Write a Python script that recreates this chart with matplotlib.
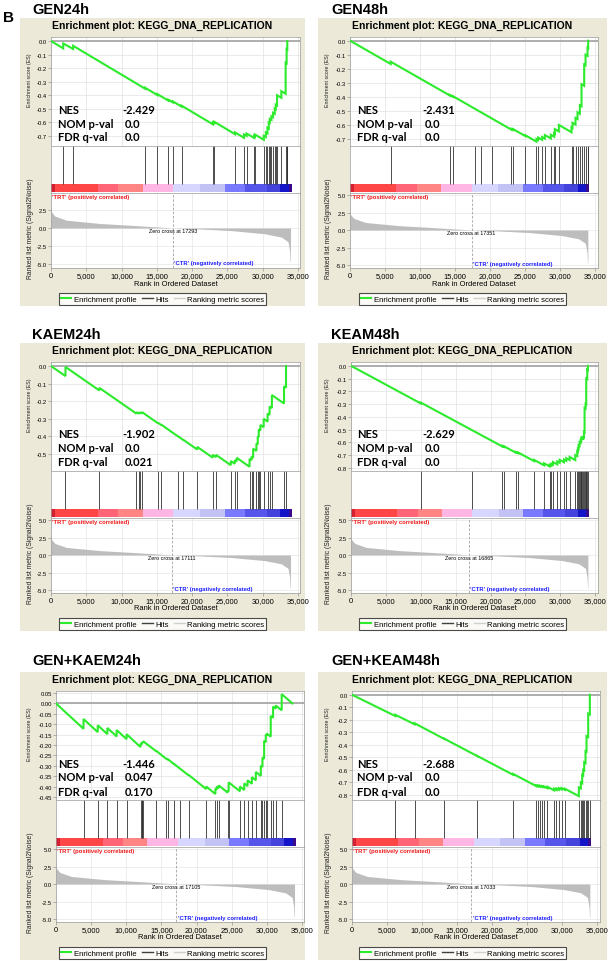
import matplotlib
matplotlib.use("Agg")
import matplotlib.pyplot as plt
from matplotlib.lines import Line2D
from matplotlib.patches import Rectangle

plt.rcParams["font.family"] = ["Liberation Sans", "DejaVu Sans"]

W, H = 610, 962

# ---------------- data ----------------
PANEL_NAMES = ["GEN24h", "GEN48h", "KAEM24h", "KEAM48h", "GEN+KAEM24h", "GEN+KEAM48h"]
TITLE = "Enrichment plot: KEGG_DNA_REPLICATION"
NES = ["-2.429", "-2.431", "-1.902", "-2.629", "-1.446", "-2.688"]
NOM_P = ["0.0", "0.0", "0.0", "0.0", "0.047", "0.0"]
FDR_Q = ["0.0", "0.0", "0.021", "0.0", "0.170", "0.0"]
ZERO_CROSS = [17293, 17351, 17111, 16865, 17105, 17033]

X_TICKS = [0, 5000, 10000, 15000, 20000, 25000, 30000, 35000]
X_TICK_LABELS = ["0", "5,000", "10,000", "15,000", "20,000", "25,000", "30,000", "35,000"]

ES_TICKS_A = [0.0, -0.1, -0.2, -0.3, -0.4, -0.5, -0.6, -0.7]
ES_TICKS_B = [0.0, -0.1, -0.2, -0.3, -0.4, -0.5]
ES_TICKS_C = [0.0, -0.1, -0.2, -0.3, -0.4, -0.5, -0.6, -0.7, -0.8]
ES_TICKS_D = [0.05, 0.0, -0.05, -0.10, -0.15, -0.20, -0.25, -0.30, -0.35, -0.40, -0.45]
METRIC_TICKS_A = [2.5, 0.0, -2.5, -5.0]
METRIC_TICKS_B = [5.0, 2.5, 0.0, -2.5, -5.0]

ES_GEN24H_RANK = [0, 1733, 1733, 3139, 3139, 13352, 13352, 15086, 15086, 16632, 16632, 17288, 17288,
                  18506, 18506, 22957, 22957, 23144, 23144, 26096, 26096, 27361, 27361, 27735, 27735,
                  28813, 28813, 28906, 28906, 30171, 30171, 30453, 30453, 30687, 30687, 30874, 30874,
                  31015, 31015, 31249, 31249, 31483, 31483, 31718, 31718, 31858, 31858, 32045, 32045,
                  32654, 32654, 33264, 33264, 33404, 33404, 33498, 33498]
ES_GEN24H_SCORE = [0.0, -0.054, -0.018, -0.058, -0.035, -0.352, -0.345, -0.399, -0.392, -0.440, -0.433,
                   -0.453, -0.446, -0.484, -0.477, -0.615, -0.600, -0.606, -0.596, -0.688, -0.675,
                   -0.714, -0.690, -0.700, -0.683, -0.716, -0.700, -0.703, -0.690, -0.729, -0.700,
                   -0.709, -0.675, -0.682, -0.640, -0.646, -0.600, -0.604, -0.575, -0.582, -0.555,
                   -0.562, -0.530, -0.537, -0.500, -0.504, -0.470, -0.476, -0.400, -0.419, -0.370,
                   -0.389, -0.160, -0.164, -0.060, -0.063, 0.0]
HITS_GEN24H = [1733, 3139, 13352, 15086, 16632, 17288, 18506, 22957, 23144, 26096, 27361, 27735,
               28813, 28906, 30171, 30453, 30687, 30874, 31015, 31249, 31483, 31718, 31858, 32045,
               32654, 33264, 33404, 33498]

ES_GEN48H_RANK = [0, 5810, 5810, 14238, 14238, 14714, 14714, 23048, 23048, 23286, 23286, 25048, 25048,
                  26619, 26619, 26857, 26857, 27429, 27429, 27810, 27810, 28667, 28667, 29143, 29143,
                  29238, 29238, 29810, 29810, 31619, 31619, 31762, 31762, 32191, 32191, 32476, 32476,
                  32810, 32810, 33048, 33048, 33429, 33429, 33619, 33619, 33905, 33905, 34000, 34000]
ES_GEN48H_SCORE = [0.0, -0.166, -0.150, -0.390, -0.386, -0.400, -0.396, -0.634, -0.628, -0.635, -0.630,
                   -0.680, -0.674, -0.719, -0.700, -0.707, -0.690, -0.706, -0.686, -0.697, -0.672,
                   -0.696, -0.670, -0.684, -0.660, -0.663, -0.630, -0.646, -0.600, -0.652, -0.618,
                   -0.622, -0.585, -0.597, -0.550, -0.558, -0.510, -0.520, -0.460, -0.467, -0.310,
                   -0.321, -0.170, -0.175, -0.100, -0.108, -0.050, -0.053, 0.0]
HITS_GEN48H = [5810, 14238, 14714, 17905, 18762, 20286, 23048, 23286, 25048, 26619, 26857, 27429,
               27810, 28667, 29143, 29238, 29810, 31619, 31762, 32191, 32476, 32810, 33048, 33429,
               33619, 33905, 34000]

ES_KAEM24H_RANK = [0, 2050, 2050, 6850, 6850, 12116, 12116, 12442, 12442, 12675, 12675, 12908, 12908,
                   15145, 15145, 15611, 15611, 18034, 18034, 18733, 18733, 20737, 20737, 22927, 22927,
                   23393, 23393, 25490, 25490, 26050, 26050, 26329, 26329, 28146, 28146, 28426, 28426,
                   28659, 28659, 29125, 29125, 29311, 29311, 29451, 29451, 29684, 29684, 30150, 30150,
                   30709, 30709, 30989, 30989, 31315, 31315, 33039, 33039, 33319, 33319]
ES_KAEM24H_SCORE = [0.0, -0.057, -0.005, -0.139, -0.124, -0.271, -0.262, -0.271, -0.263, -0.270, -0.263,
                    -0.270, -0.262, -0.325, -0.322, -0.335, -0.333, -0.401, -0.400, -0.420, -0.419,
                    -0.475, -0.460, -0.521, -0.505, -0.518, -0.505, -0.564, -0.540, -0.556, -0.535,
                    -0.543, -0.522, -0.573, -0.528, -0.536, -0.515, -0.522, -0.470, -0.483, -0.440,
                    -0.445, -0.400, -0.404, -0.360, -0.367, -0.335, -0.348, -0.300, -0.316, -0.270,
                    -0.278, -0.230, -0.239, -0.165, -0.213, -0.115, -0.123, 0.0]
HITS_KAEM24H = [2050, 6850, 12116, 12442, 12675, 12908, 15145, 15611, 18034, 18733, 20737, 22927,
                23393, 25490, 26050, 26329, 28146, 28426, 28659, 29125, 29311, 29451, 29684, 30150,
                30709, 30989, 31315, 33039, 33319]

ES_KEAM48H_RANK = [0, 10000, 10000, 21667, 21667, 21953, 21953, 23619, 23619, 23952, 23952, 26238, 26238,
                   27667, 27667, 28476, 28476, 28714, 28714, 28952, 28952, 29571, 29571, 29905, 29905,
                   30524, 30524, 30857, 30857, 31333, 31333, 32143, 32143, 32429, 32429, 32524, 32524,
                   32619, 32619, 32762, 32762, 32905, 32905, 33000, 33000, 33143, 33143, 33238, 33238,
                   33381, 33381, 33476, 33476, 33619, 33619, 33714, 33714, 33857, 33857, 33952, 33952]
ES_KEAM48H_SCORE = [0.0, -0.295, -0.288, -0.632, -0.628, -0.636, -0.632, -0.681, -0.676, -0.686, -0.680,
                    -0.747, -0.738, -0.780, -0.765, -0.789, -0.776, -0.783, -0.768, -0.775, -0.755,
                    -0.773, -0.750, -0.760, -0.738, -0.756, -0.735, -0.745, -0.725, -0.739, -0.715,
                    -0.739, -0.700, -0.708, -0.670, -0.673, -0.650, -0.653, -0.625, -0.629, -0.600,
                    -0.604, -0.585, -0.588, -0.565, -0.569, -0.566, -0.569, -0.560, -0.564, -0.520,
                    -0.523, -0.330, -0.334, -0.300, -0.303, -0.100, -0.104, -0.030, -0.033, 0.0]
HITS_KEAM48H = [10000, 17286, 21667, 21953, 23619, 23952, 26238, 27667, 28476, 28714, 28952, 29571,
                29905, 30524, 30857, 31333, 32143, 32429, 32524, 32619, 32762, 32905, 33000, 33143,
                33238, 33381, 33476, 33619, 33714, 33857, 33952]

ES_GKAEM24H_RANK = [0, 3915, 3915, 5943, 5943, 7311, 7311, 8632, 8632, 10047, 10047, 12028, 12028,
                    12170, 12170, 12311, 12311, 12406, 12406, 14293, 14293, 15708, 15708, 15943, 15943,
                    16745, 16745, 18868, 18868, 21368, 21368, 22689, 22689, 22877, 22877, 23160, 23160,
                    24434, 24434, 24575, 24575, 26179, 26179, 26792, 26792, 27264, 27264, 27877, 27877,
                    28443, 28443, 29151, 29151, 29387, 29387, 29623, 29623, 29858, 29858, 30000, 30000,
                    30566, 30566, 30896, 30896, 31274, 31274, 32123, 32123, 33650]
ES_GKAEM24H_SCORE = [0.0, -0.122, -0.075, -0.138, -0.105, -0.148, -0.118, -0.159, -0.128, -0.172, -0.148,
                     -0.210, -0.195, -0.199, -0.188, -0.192, -0.185, -0.188, -0.182, -0.231, -0.229,
                     -0.267, -0.265, -0.271, -0.269, -0.291, -0.290, -0.346, -0.344, -0.412, -0.400,
                     -0.436, -0.410, -0.415, -0.400, -0.408, -0.395, -0.429, -0.420, -0.424, -0.380,
                     -0.423, -0.400, -0.417, -0.385, -0.398, -0.370, -0.387, -0.355, -0.370, -0.330,
                     -0.349, -0.300, -0.306, -0.260, -0.266, -0.180, -0.186, -0.150, -0.154, -0.145,
                     -0.160, -0.060, -0.069, -0.015, -0.025, -0.010, -0.033, 0.045, 0.0]
HITS_GKAEM24H = [3915, 5943, 7311, 8632, 10047, 12028, 12170, 12311, 12406, 14293, 15708, 15943,
                 16745, 17594, 18868, 21368, 22689, 22877, 23160, 24434, 24575, 26179, 26792, 27264,
                 27877, 28443, 29151, 29387, 29623, 29858, 30000, 30566, 30896, 31274, 32123]

ES_GKEAM48H_RANK = [0, 6190, 6190, 8952, 8952, 13143, 13143, 17905, 17905, 23000, 23000, 26333, 26333,
                    26571, 26571, 26810, 26810, 27143, 27143, 27429, 27429, 27905, 27905, 28857, 28857,
                    29190, 29190, 29524, 29524, 29905, 29905, 30381, 30381, 32381, 32381, 32667, 32667,
                    32857, 32857, 33000, 33000, 33143, 33143, 33333, 33333, 33476, 33476, 33714, 33714,
                    33952, 33952]
ES_GKEAM48H_SCORE = [0.0, -0.170, -0.160, -0.236, -0.228, -0.352, -0.350, -0.490, -0.489, -0.639, -0.632,
                     -0.730, -0.724, -0.731, -0.725, -0.732, -0.726, -0.736, -0.730, -0.738, -0.732,
                     -0.746, -0.735, -0.763, -0.750, -0.760, -0.748, -0.758, -0.745, -0.756, -0.745,
                     -0.759, -0.750, -0.809, -0.740, -0.748, -0.700, -0.706, -0.640, -0.644, -0.600,
                     -0.604, -0.540, -0.546, -0.450, -0.454, -0.330, -0.337, -0.150, -0.157, 0.0]
HITS_GKEAM48H = [6190, 8952, 13143, 17905, 23000, 26333, 26571, 26810, 27143, 27429, 27905, 28857,
                 29190, 29524, 29905, 30381, 32381, 32667, 32857, 33000, 33143, 33333, 33476, 33714,
                 33952]

# ranked list metric (Signal2Noise), read from the grey area
METRIC_POS_RANK = [0, 80, 560, 2200, 6900, 11600, 15500]
METRIC_POS_VALUE = [3.0, 2.2, 1.65, 1.08, 0.63, 0.36, 0.12]
METRIC_NEG_RANK = [21000, 25600, 30300, 32650, 33600, 33830, 33900, 33950]
METRIC_NEG_VALUE = [-0.13, -0.36, -0.80, -1.26, -1.90, -3.20, -4.70, -4.70]

# colour bar of the ranked list
BAND_EDGES = [0, 570, 6620, 9550, 13000, 17360, 21140, 24690, 27530, 30600, 32500, 33680, 34100]
BAND_COLORS = ["#D42030", "#FF4646", "#FF6477", "#FF8585", "#FFB6E4", "#D6D6FF", "#C2C2F4",
               "#7A7AFF", "#5656EA", "#4444DC", "#1414C8", "#3A0A8C"]

ES_RANKS = [ES_GEN24H_RANK, ES_GEN48H_RANK, ES_KAEM24H_RANK, ES_KEAM48H_RANK, ES_GKAEM24H_RANK, ES_GKEAM48H_RANK]
ES_SCORES = [ES_GEN24H_SCORE, ES_GEN48H_SCORE, ES_KAEM24H_SCORE, ES_KEAM48H_SCORE, ES_GKAEM24H_SCORE, ES_GKEAM48H_SCORE]
HITS = [HITS_GEN24H, HITS_GEN48H, HITS_KAEM24H, HITS_KEAM48H, HITS_GKAEM24H, HITS_GKEAM48H]
ES_TICKS = [ES_TICKS_A, ES_TICKS_A, ES_TICKS_B, ES_TICKS_C, ES_TICKS_D, ES_TICKS_C]
ES_FMT = ["{:.1f}", "{:.1f}", "{:.1f}", "{:.1f}", "{:.2f}", "{:.1f}"]
METRIC_TICKS = [METRIC_TICKS_A] + [METRIC_TICKS_B] * 5

# ---------------- layout (pixels) ----------------
BEIGE = "#ECE9D8"
GREEN = "#2CEB2C"
ES_YLIM = [(-0.775, 0.03), (-0.75, 0.026), (-0.597, 0.023), (-0.825, 0.03), (-0.465, 0.06), (-0.84, 0.03)]
M_YLIM = [(-5.55, 4.86)] + [(-5.43, 5.29)] * 5
BOX_X = [(20, 305), (318, 607)]
ROW_OFF = [0, 325, 654]
NAME_Y = [10, 335, 661]
NAME_X = [32, 331]
AX_LEFT = [51, 350, 51, 351, 56, 352]
AX_RIGHT = [300, 598, 300, 598, 304, 600]
XMAX = [35300, 35400, 35300, 35400, 35300, 35400]
STAT_X = [(58, 122, 125), (357, 422, 425)]

fig = plt.figure(figsize=(W / 100, H / 100), dpi=100)
fig.patch.set_facecolor("white")


def rect(x0, y0, x1, y1):
    return [x0 / W, 1 - y1 / H, (x1 - x0) / W, (y1 - y0) / H]


def ftext(x, y, s, **kw):
    fig.text(x / W, 1 - y / H, s, **kw)


def style_axes(ax):
    for sp in ax.spines.values():
        sp.set_color("#9A9A9A")
        sp.set_linewidth(0.5)
    ax.tick_params(length=2, width=0.4, color="#808080", pad=1)


ftext(3, 18, "B", fontsize=11, weight="bold", va="center")

for i in range(6):
    col, row = i % 2, i // 2
    off = ROW_OFF[row]
    bx0, bx1 = BOX_X[col]
    L, R = AX_LEFT[i], AX_RIGHT[i]
    fig.add_artist(Rectangle((bx0 / W, 1 - (off + 307) / H), (bx1 - bx0) / W, (307 - 19) / H,
                             transform=fig.transFigure, facecolor=BEIGE, edgecolor="none", zorder=-5))
    ftext(NAME_X[col], NAME_Y[row], PANEL_NAMES[i], fontsize=10.5, weight="bold", va="center")
    ftext((bx0 + bx1) / 2, off + 26, TITLE, fontsize=7.5, weight="bold", ha="center", va="center")

    # ES plot
    ax = fig.add_axes(rect(L, off + 38, R, off + 147))
    ax.set_facecolor("white")
    ax.axhline(0, color="#A8A8A8", lw=1.3, zorder=1)
    ax.plot(ES_RANKS[i], ES_SCORES[i], color=GREEN, lw=1.5, zorder=3, solid_joinstyle="miter")
    ax.set_xlim(0, XMAX[i])
    ax.set_ylim(*ES_YLIM[i])
    ax.set_xticks(X_TICKS)
    ax.set_xticklabels([])
    ax.tick_params(axis="x", length=0)
    ax.set_yticks(ES_TICKS[i])
    ax.set_yticklabels([ES_FMT[i].format(v) for v in ES_TICKS[i]])
    ax.grid(True, color="#E2E2E2", lw=0.5)
    ax.set_axisbelow(True)
    style_axes(ax)
    ax.tick_params(axis="y", labelsize=4.2)

    # hits + colour bar
    axh = fig.add_axes(rect(L, off + 147, R, off + 194))
    axh.set_facecolor("white")
    axh.vlines(HITS[i], 0.19, 1.0, color="#303030", lw=0.6)
    axh.broken_barh([(BAND_EDGES[k], BAND_EDGES[k + 1] - BAND_EDGES[k]) for k in range(len(BAND_COLORS))],
                    (0.02, 0.17), facecolors=BAND_COLORS, edgecolor="none")
    axh.set_xlim(0, XMAX[i])
    axh.set_ylim(0, 1)
    axh.set_xticks([])
    axh.set_yticks([])
    style_axes(axh)

    # ranked list metric
    axm = fig.add_axes(rect(L, off + 194, R, off + 269))
    axm.set_facecolor("white")
    mr = METRIC_POS_RANK + [ZERO_CROSS[i]] + METRIC_NEG_RANK
    mv = METRIC_POS_VALUE + [0.0] + METRIC_NEG_VALUE
    axm.fill_between(mr, mv, 0, color="#BDBDBD", lw=0, zorder=2)
    axm.axvline(ZERO_CROSS[i], color="#A0A0A0", ls=(0, (3, 2)), lw=0.6, zorder=1)
    axm.set_xlim(0, XMAX[i])
    axm.set_ylim(*M_YLIM[i])
    axm.set_xticks(X_TICKS)
    axm.set_xticklabels(X_TICK_LABELS)
    axm.set_yticks(METRIC_TICKS[i])
    axm.set_yticklabels(["{:.1f}".format(v) for v in METRIC_TICKS[i]])
    axm.grid(True, color="#E6E6E6", lw=0.5)
    axm.set_axisbelow(True)
    style_axes(axm)
    axm.tick_params(axis="x", labelsize=5.4)
    axm.tick_params(axis="y", labelsize=4.2)
    axm.text(ZERO_CROSS[i], -0.35, "Zero cross at %d" % ZERO_CROSS[i], fontsize=3.9,
             ha="center", va="center", zorder=4)
    axm.text(ZERO_CROSS[i] + 200, -4.75, "'CTR' (negatively correlated)", fontsize=4.2,
             weight="bold", color="#2020FF", ha="left", va="center", zorder=4)
    ftext(L + 1, off + 198, "'TRT' (positively correlated)", fontsize=4.2, weight="bold",
          color="#F01818", ha="left", va="center")

    # axis labels
    ftext(bx0 + 9, off + 80, "Enrichment score (ES)", fontsize=3.8, rotation=90,
          ha="center", va="center", color="#202020")
    ftext(bx0 + 10, off + 229, "Ranked list metric (Signal2Noise)", fontsize=4.9, rotation=90,
          ha="center", va="center", color="#202020")
    ftext((L + R) / 2, off + 284, "Rank in Ordered Dataset", fontsize=5.4, ha="center", va="center")

    # statistics
    sx0, sx1, sx2 = STAT_X[col]
    for k, (lab, val) in enumerate([("NES", NES[i]), ("NOM p-val", NOM_P[i]), ("FDR q-val", FDR_Q[i])]):
        y = off + 110 + 14 * k
        ftext(sx0, y, lab, fontsize=8, weight="bold", family="Lato", va="center")
        ftext(sx1 if k == 0 else sx2, y, val, fontsize=8, weight="bold", family="Lato", va="center")

    # legend
    handles = [Line2D([], [], color=GREEN, lw=1.5),
               Line2D([], [], color="#404040", lw=1.0),
               Line2D([], [], color="#D0D0D0", lw=1.0)]
    leg = fig.legend(handles, ["Enrichment profile", "Hits", "Ranking metric scores"],
                     loc="center", bbox_to_anchor=((bx0 + bx1) / 2 / W, 1 - (off + 300) / H),
                     ncol=3, fontsize=5.6, frameon=True, fancybox=False, borderpad=0.25,
                     handlelength=1.4, handletextpad=0.3, columnspacing=0.7)
    leg.get_frame().set_edgecolor("#202020")
    leg.get_frame().set_linewidth(0.8)

fig.savefig("out.png", dpi=100, facecolor="white")
